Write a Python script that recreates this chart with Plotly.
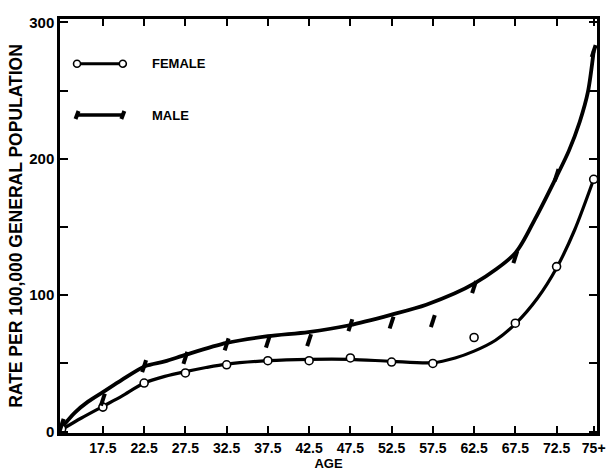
import plotly.graph_objects as go

# ---- data ----
age_ticks = [17.5, 22.5, 27.5, 32.5, 37.5, 42.5, 47.5, 52.5, 57.5, 62.5, 67.5, 72.5, 77.0]
age_labels = ["17.5", "22.5", "27.5", "32.5", "37.5", "42.5", "47.5", "52.5", "57.5", "62.5", "67.5", "72.5", "75+"]

point_ages = [12.5, 17.5, 22.5, 27.5, 32.5, 37.5, 42.5, 47.5, 52.5, 57.5, 62.5, 67.5, 72.5, 77.0]
female_rates = [2, 18, 35.6, 43, 49, 52, 52, 54, 51, 50, 69, 79.5, 121, 185]
male_rates = [5, 23.5, 48, 54, 64, 66, 67, 78, 80, 81, 106, 128, 188, 279]

# fitted curves
female_curve_age = [12.5, 14.9, 17.5, 19.8, 22.5, 25, 27.5, 30, 32.5, 37.5, 42.5, 47.5, 52.5, 57.5, 60.2, 62.5, 65.1, 67.5, 70.2, 72.5, 74.7, 77.0]
female_curve_rate = [1.5, 10, 18.5, 26, 35.6, 40.5, 44, 47, 49.5, 52, 53, 53, 51.5, 50.5, 54, 59, 67, 79, 98, 120, 148, 185]
male_curve_age = [12.5, 14.1, 15.7, 17.5, 19.8, 22.6, 25, 27.6, 32.5, 37.5, 42.4, 47.4, 52.4, 56.7, 62.6, 67.5, 69.9, 72.5, 74.0, 75.3, 76.3, 77.0]
male_curve_rate = [3, 14, 22, 29, 38, 48, 51.5, 56.5, 65, 70, 73, 78, 85.6, 93, 108.8, 131, 156, 187, 206, 227, 249, 279]

y_ticks = [0, 50, 100, 150, 200, 250, 300]
y_labels = ["0", "", "100", "", "200", "", "300"]

FONT = "Liberation Sans, Arial, Helvetica, sans-serif"

fig = go.Figure()
fig.add_trace(go.Scatter(x=female_curve_age, y=female_curve_rate, mode="lines",
                         line=dict(color="black", width=3.2, shape="spline", smoothing=0.8),
                         hoverinfo="skip", showlegend=False))
fig.add_trace(go.Scatter(x=male_curve_age, y=male_curve_rate, mode="lines",
                         line=dict(color="black", width=3.8, shape="spline", smoothing=0.8),
                         hoverinfo="skip", showlegend=False))
fig.add_trace(go.Scatter(x=point_ages, y=female_rates, mode="markers", name="FEMALE",
                         marker=dict(symbol="circle", size=8, color="white",
                                     line=dict(color="black", width=1.6)),
                         showlegend=False))
fig.add_trace(go.Scatter(x=point_ages, y=male_rates, mode="markers", name="MALE",
                         marker=dict(symbol="line-ns", size=9, angle=18,
                                     line=dict(color="black", width=4)),
                         showlegend=False))

# legend key drawn in paper coordinates (plot area: x 60..597, y 19..433)
shapes = []
lx0, lx1 = 0.0317, 0.117
fy, my = 0.892, 0.768
shapes.append(dict(type="line", xref="paper", yref="paper", x0=lx0, x1=lx1, y0=fy, y1=fy,
                   line=dict(color="black", width=3)))
for xa in (lx0, lx1):
    shapes.append(dict(type="circle", xref="paper", yref="paper", xsizemode="pixel", ysizemode="pixel",
                       xanchor=xa, yanchor=fy, x0=-3.5, x1=3.5, y0=-3.5, y1=3.5,
                       fillcolor="white", line=dict(color="black", width=1.6)))
shapes.append(dict(type="line", xref="paper", yref="paper", x0=lx0, x1=lx1, y0=my, y1=my,
                   line=dict(color="black", width=3.5)))
for xa in (lx0, lx1):
    shapes.append(dict(type="line", xref="paper", yref="paper", xsizemode="pixel", ysizemode="pixel",
                       xanchor=xa, yanchor=my, x0=-1.5, x1=1.5, y0=-4, y1=4,
                       line=dict(color="black", width=4)))

annotations = [
    dict(text="<b>FEMALE</b>", xref="paper", yref="paper", x=0.168, y=fy, xanchor="left", yanchor="middle",
         showarrow=False, font=dict(size=13, family=FONT, color="black")),
    dict(text="<b>MALE</b>", xref="paper", yref="paper", x=0.168, y=my, xanchor="left", yanchor="middle",
         showarrow=False, font=dict(size=13, family=FONT, color="black")),
]

fig.update_layout(
    width=608, height=472,
    margin=dict(l=60, r=11, t=19, b=39),
    paper_bgcolor="white", plot_bgcolor="white",
    font=dict(family=FONT, size=14, color="black"),
    shapes=shapes, annotations=annotations,
    showlegend=False,
)
fig.update_xaxes(range=[12.3, 77.4], tickvals=age_ticks, ticktext=[f"<b>{t}</b>" for t in age_labels],
                 ticks="inside", ticklen=7, tickwidth=1.5, tickcolor="black",
                 showline=True, linewidth=2.5, linecolor="black", mirror="ticks",
                 showgrid=False, zeroline=False, automargin=False,
                 title=dict(text="<b>AGE</b>", font=dict(size=13, family=FONT), standoff=0),
                 tickfont=dict(size=14, family=FONT))
fig.update_yaxes(range=[-1, 302.5], tickvals=y_ticks, ticktext=[f"<b>{t}</b>" if t else "" for t in y_labels],
                 ticks="inside", ticklen=8, tickwidth=1.5, tickcolor="black",
                 showline=True, linewidth=2.5, linecolor="black", mirror="ticks",
                 showgrid=False, zeroline=False, automargin=False,
                 title=dict(text="<b>RATE PER 100,000 GENERAL POPULATION</b>", font=dict(size=17.5, family=FONT), standoff=3),
                 tickfont=dict(size=15, family=FONT))

fig.write_html("out.html", config={"displayModeBar": False},
               post_script="document.body.style.margin='0';document.body.style.padding='0';document.body.style.overflow='hidden';")
